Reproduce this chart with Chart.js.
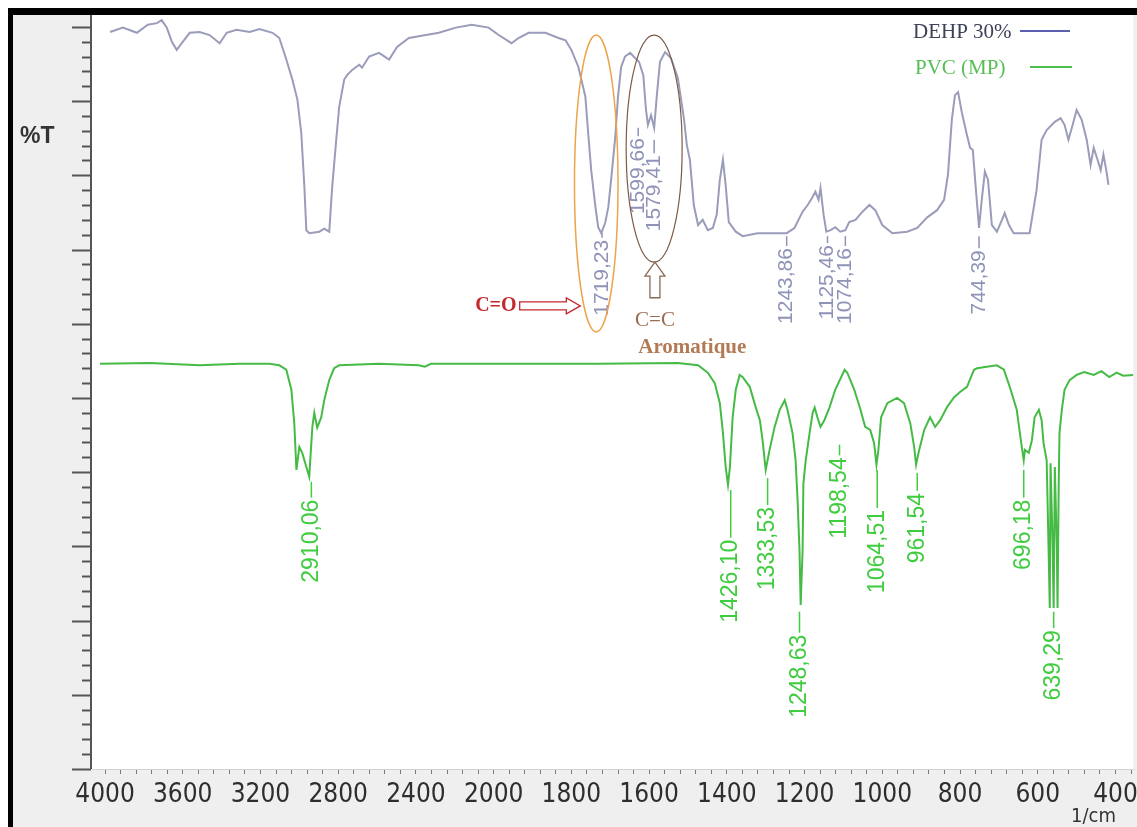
<!DOCTYPE html>
<html>
<head>
<meta charset="utf-8">
<script src="https://cdn.jsdelivr.net/npm/chart.js@4.4.1/dist/chart.umd.min.js"></script>
<style>
  html, body { margin: 0; padding: 0; background: #fff; }
  #wrap { position: relative; width: 1137px; height: 827px; }
</style>
</head>
<body>
<div id="wrap"><canvas id="ftir"></canvas></div>
<script>
// x axis labels (1/cm) - scale is 400 per step above 2000, 200 per step below
const tickLabels = ['4000','3600','3200','2800','2400','2000','1800','1600','1400','1200','1000','800','600','400'];
const xMinWn = 4067, xMaxWn = 354;

// DEHP 30% spectrum (wavenumber, %T)
const dehpWn = [3974,3908,3836,3780,3733,3708,3682,3656,3631,3605,
  3564,3513,3462,3410,3374,3323,3256,3205,3138,3103,
  3067,3036,3010,2990,2974,2964,2949,2897,2872,2846,
  2831,2810,2795,2769,2754,2728,2692,2677,2641,2590,
  2538,2497,2436,2282,2195,2113,2026,1987,1954,1936,
  1910,1867,1833,1815,1800,1782,1764,1756,1749,1738,
  1731,1723,1713,1705,1697,1687,1680,1672,1662,1649,
  1636,1626,1615,1608,1603,1595,1587,1580,1572,1559,
  1544,1526,1510,1503,1495,1485,1474,1462,1449,1436,
  1426,1418,1410,1403,1395,1377,1359,1321,1246,1226,
  1205,1192,1180,1172,1164,1159,1151,1144,1133,1121,
  1108,1095,1085,1069,1051,1033,1018,1000,974,936,
  910,885,859,841,831,821,813,805,795,782,
  774,767,759,751,744,736,728,718,705,692,
  685,674,662,621,603,590,577,556,541,531,
  521,510,500,487,474,464,456,446,438,431,
  423,418];
const dehpT = [99.3,99.9,99.2,100.3,100.5,100.9,99.9,98.0,96.9,97.8,
  99.2,99.3,98.9,97.8,99.2,99.6,99.3,99.7,99.2,98.5,
  95.6,92.9,90.2,85.7,78.4,72.6,72.2,72.4,72.8,72.4,
  78.4,84.8,89.2,92.9,93.5,94.2,94.9,94.5,96.0,96.5,
  95.6,97.3,98.5,99.2,99.9,100.3,99.9,98.9,97.8,98.5,
  99.2,99.2,98.5,98.2,96.9,94.6,90.6,85.2,80.7,75.7,
  73.0,72.2,73.6,75.7,79.8,85.2,90.6,94.6,96.0,96.5,
  95.8,95.3,93.5,88.8,86.8,88.1,86.4,90.8,95.3,96.6,
  95.8,93.1,87.5,84.1,82.1,76.0,73.3,74.0,72.6,72.9,
  74.7,79.4,82.1,78.7,73.7,72.4,71.8,72.2,72.2,72.9,
  75.1,76.0,77.0,77.8,76.7,78.3,74.7,72.4,72.6,73.0,
  72.4,72.6,73.7,74.0,75.1,76.0,75.3,73.3,72.2,72.4,
  72.9,74.3,75.3,76.7,80.1,87.5,90.8,91.2,88.4,85.4,
  83.7,83.4,78.0,72.9,76.7,80.5,79.4,73.3,72.4,74.0,
  74.9,73.3,72.2,72.2,78.0,84.8,86.1,87.2,87.7,86.8,
  84.8,86.8,88.8,87.5,84.8,81.4,83.7,82.1,80.7,82.8,
  80.5,78.7];

// PVC (MP) spectrum (wavenumber, %T)
const pvcWn = [4026,3769,3513,3308,3154,3103,3067,3041,3026,3015,
  3000,2985,2964,2949,2933,2923,2908,2887,2872,2846,
  2821,2795,2590,2385,2354,2323,2077,1885,1731,1526,
  1474,1449,1431,1418,1410,1403,1397,1392,1385,1377,
  1367,1359,1341,1326,1315,1308,1300,1290,1277,1264,
  1251,1244,1231,1223,1218,1213,1210,1205,1203,1197,
  1187,1179,1174,1167,1159,1149,1136,1121,1097,1090,
  1072,1056,1044,1031,1021,1015,1010,1003,987,962,
  944,928,918,913,905,892,877,864,851,833,
  815,800,782,764,756,731,705,687,672,654,
  646,641,636,633,623,615,608,597,590,585,
  577,572,569,567,562,559,556,551,549,546,
  544,538,531,518,500,480,456,436,416,397,
  380,354];
const pvcT = [54.6,54.7,54.4,54.6,54.6,54.4,53.8,51.1,46.6,40.3,
  43.4,42.6,40.7,39.4,46.1,48.0,46.0,47.4,49.7,52.4,
  54.0,54.4,54.6,54.4,54.2,54.6,54.6,54.6,54.6,54.7,
  54.4,53.4,52.0,49.3,45.3,40.7,38.3,40.7,47.4,51.1,
  53.1,52.8,51.5,48.8,47.0,44.3,40.3,43.0,46.1,48.4,
  49.7,48.4,45.3,41.6,36.3,29.5,22.1,29.5,38.5,41.6,
  45.3,48.0,48.7,47.4,46.1,47.0,48.7,51.1,53.8,53.4,
  51.1,48.4,46.1,45.7,43.9,41.0,43.0,47.4,49.3,50.0,
  49.3,46.6,43.4,41.0,43.0,45.7,47.4,46.1,47.0,48.8,
  50.1,50.8,51.5,53.8,54.0,54.2,54.4,53.8,51.5,48.4,
  45.3,43.4,41.6,43.0,42.6,44.3,47.4,48.4,47.0,43.9,
  41.6,29.5,21.7,41.2,30.9,21.7,40.7,30.2,21.7,38.5,
  45.3,48.4,51.1,52.4,53.1,53.5,53.1,53.6,52.8,53.4,
  53.0,53.1];

// peak marks: text, wavenumber where the mark sits, %T where the dash starts, %T of the text top
const pvcPeakText = ['2910,06','1426,10','1333,53','1248,63','1198,54','1064,51','961,54','696,18','639,29'];
const pvcPeakWn   = [2938, 1390, 1295, 1213, 1110, 1013, 910, 636, 559];
const pvcPeakLine = [38.7, 37.6, 39.2, 21.2, 43.7, 40.3, 39.9, 40.3, 21.2];
const pvcPeakTop  = [36.3, 30.9, 35.3, 18.1, 42.0, 34.9, 37.2, 36.3, 18.7];

const dehpPeakText = ['1719,23','1599,66','1579,41','1243,86','1125,46','1074,16','744,39'];
const dehpPeakWn   = [1721, 1628, 1587, 1246, 1141, 1095, 751];
const dehpPeakLine = [72.2, 86.4, 84.8, 71.8, 71.8, 71.8, 71.8];
const dehpPeakTop  = [71.3, 85.0, 82.7, 70.2, 70.6, 70.2, 69.9];

// map wavenumber to position on the split axis
function pos(wn) { return wn >= 2000 ? (4000 - wn) / 400 : 5 + (2000 - wn) / 200; }

function vLabel(ctx, text, x, yTop, color, size) {
  ctx.save();
  ctx.translate(x, yTop);
  ctx.rotate(-Math.PI / 2);
  ctx.textAlign = 'right';
  ctx.textBaseline = 'middle';
  ctx.fillStyle = color;
  ctx.font = size + 'px "Liberation Sans", Arial, sans-serif';
  ctx.fillText(text, 0, 0);
  ctx.restore();
}

function drawPeaks(ctx, px, py, texts, wns, lines, tops, color, size) {
  texts.forEach((t, i) => {
    const X = px(wns[i]);
    ctx.strokeStyle = color;
    ctx.lineWidth = 1.5;
    ctx.beginPath();
    ctx.moveTo(X, py(lines[i]));
    ctx.lineTo(X, py(tops[i]) - 2);
    ctx.stroke();
    vLabel(ctx, t, X, py(tops[i]), color, size);
  });
}

const frame = {
  id: 'frame',
  beforeDraw(chart) {
    const { ctx, chartArea: a, width, height } = chart;
    ctx.save();
    ctx.fillStyle = '#fff';
    ctx.fillRect(0, 0, width, height);
    ctx.fillStyle = '#efefef';
    ctx.fillRect(13, 15, width - 13, height - 15);
    ctx.fillStyle = '#fff';
    ctx.fillRect(a.left, a.top, a.right - a.left, a.bottom - a.top);
    ctx.fillStyle = '#000';
    ctx.fillRect(8, 8, width - 8, 7);
    ctx.fillRect(8, 8, 5, height - 8);
    ctx.restore();
  },
  afterDatasetsDraw(chart) {
    const { ctx, chartArea: a, scales: { x, y } } = chart;
    const px = wn => x.getPixelForValue(pos(wn));
    const py = v => y.getPixelForValue(v);
    ctx.save();

    drawPeaks(ctx, px, py, pvcPeakText, pvcPeakWn, pvcPeakLine, pvcPeakTop, '#3fcc3f', 23);
    drawPeaks(ctx, px, py, dehpPeakText, dehpPeakWn, dehpPeakLine, dehpPeakTop, '#8f93b8', 21);

    // C=O ellipse (orange) and C=C ellipse (brown)
    ctx.lineWidth = 1.5;
    ctx.strokeStyle = '#eea24a';
    ctx.beginPath();
    ctx.ellipse((px(1792) + px(1680)) / 2, (py(98.9) + py(58.9)) / 2,
      (px(1680) - px(1792)) / 2, (py(58.9) - py(98.9)) / 2, 0, 0, Math.PI * 2);
    ctx.stroke();
    ctx.lineWidth = 1.2;
    ctx.strokeStyle = '#7d5a45';
    ctx.beginPath();
    ctx.ellipse((px(1659) + px(1515)) / 2, (py(98.9) + py(68.3)) / 2,
      (px(1515) - px(1659)) / 2, (py(68.3) - py(98.9)) / 2, 0, 0, Math.PI * 2);
    ctx.stroke();

    // C=O label with hollow arrow
    const ay = py(62.4), ax1 = px(1933), ax2 = px(1777);
    ctx.fillStyle = '#c4282c';
    ctx.font = 'bold 20px "Liberation Serif", serif';
    ctx.textAlign = 'right';
    ctx.textBaseline = 'middle';
    ctx.fillText('C=O', px(1941), ay);
    ctx.strokeStyle = '#c4282c';
    ctx.lineWidth = 1.3;
    ctx.beginPath();
    ctx.moveTo(ax1, ay - 4); ctx.lineTo(ax2 - 14, ay - 4); ctx.lineTo(ax2 - 14, ay - 8);
    ctx.lineTo(ax2, ay); ctx.lineTo(ax2 - 14, ay + 8); ctx.lineTo(ax2 - 14, ay + 4);
    ctx.lineTo(ax1, ay + 4); ctx.closePath();
    ctx.stroke();

    // C=C aromatique with up arrow
    const ux = px(1585), uTip = py(68.3), uBase = py(63.5);
    ctx.strokeStyle = '#8a6a55';
    ctx.beginPath();
    ctx.moveTo(ux, uTip); ctx.lineTo(ux + 10, uTip + 14); ctx.lineTo(ux + 5, uTip + 14);
    ctx.lineTo(ux + 5, uBase); ctx.lineTo(ux - 5, uBase); ctx.lineTo(ux - 5, uTip + 14);
    ctx.lineTo(ux - 10, uTip + 14); ctx.closePath();
    ctx.stroke();
    ctx.textAlign = 'left';
    ctx.textBaseline = 'alphabetic';
    ctx.fillStyle = '#9a6c50';
    ctx.font = '21px "Liberation Serif", serif';
    ctx.fillText('C=C', px(1636), py(59.7));
    ctx.fillStyle = '#b27a55';
    ctx.font = 'bold 21px "Liberation Serif", serif';
    ctx.fillText('Aromatique', px(1628), py(56.1));

    // legend: text then line
    ctx.font = '21px "Liberation Serif", serif';
    ctx.fillStyle = '#3c4257';
    ctx.fillText('DEHP 30%', 913, 38);
    ctx.fillStyle = '#55bf55';
    ctx.fillText('PVC (MP)', 915, 74);
    ctx.lineWidth = 2;
    ctx.strokeStyle = '#5b5fb0';
    ctx.beginPath(); ctx.moveTo(1020, 31); ctx.lineTo(1070, 31); ctx.stroke();
    ctx.strokeStyle = '#4cbf4c';
    ctx.beginPath(); ctx.moveTo(1030, 67); ctx.lineTo(1072, 67); ctx.stroke();
    ctx.restore();
  },
  afterDraw(chart) {
    const { ctx, chartArea: a, scales: { y } } = chart;
    ctx.save();
    // y axis with major/minor ticks, no values
    ctx.strokeStyle = '#555';
    ctx.lineWidth = 2;
    ctx.beginPath();
    ctx.moveTo(a.left - 1, a.top);
    ctx.lineTo(a.left - 1, a.bottom);
    ctx.stroke();
    for (let v = 0; v <= 100; v += 2) {
      const Y = Math.round(y.getPixelForValue(v)) + 0.5;
      ctx.beginPath();
      ctx.moveTo(a.left - (v % 10 === 0 ? 20 : 10), Y);
      ctx.lineTo(a.left - 1, Y);
      ctx.stroke();
    }
    ctx.fillStyle = '#333';
    ctx.font = 'bold 23px "Liberation Sans", Arial, sans-serif';
    ctx.textAlign = 'left';
    ctx.textBaseline = 'middle';
    ctx.fillText('%T', 20, 137);
    ctx.font = '20px "Liberation Sans Narrow", "DejaVu Sans Condensed", sans-serif';
    ctx.textAlign = 'right';
    ctx.fillText('1/cm', 1116, 817);
    ctx.restore();
  }
};

new Chart(document.getElementById('ftir'), {
  type: 'line',
  data: {
    datasets: [
      {
        label: 'DEHP 30%',
        data: dehpWn.map((w, i) => ({ x: pos(w), y: dehpT[i] })),
        borderColor: '#9a9cba',
        borderWidth: 2,
        pointRadius: 0,
        tension: 0
      },
      {
        label: 'PVC (MP)',
        data: pvcWn.map((w, i) => ({ x: pos(w), y: pvcT[i] })),
        borderColor: '#45bb45',
        borderWidth: 2,
        pointRadius: 0,
        tension: 0
      }
    ]
  },
  options: {
    responsive: true,
    maintainAspectRatio: false,
    animation: false,
    layout: { padding: { left: 92, top: 15, right: 0, bottom: 0 } },
    plugins: { legend: { display: false }, tooltip: { enabled: false } },
    scales: {
      x: {
        type: 'linear',
        min: pos(xMinWn),
        max: pos(xMaxWn),
        afterBuildTicks(axis) {
          const t = [];
          for (let i = 0; i <= 66; i++) t.push({ value: i / 5 });
          axis.ticks = t;
        },
        afterFit(axis) { axis.height = 58; },
        grid: { drawOnChartArea: false, tickLength: 5, tickColor: '#7a7a7a', tickWidth: 1 },
        border: { color: '#d2d2d2', width: 1 },
        ticks: {
          autoSkip: false,
          maxRotation: 0,
          padding: 6,
          color: '#2e2e2e',
          font: { family: '"Liberation Sans Narrow", "DejaVu Sans Condensed", sans-serif', size: 26 },
          callback(v) {
            const i = Math.round(v * 5);
            return i % 5 === 0 ? tickLabels[i / 5] : '';
          }
        }
      },
      y: { display: false, min: 0, max: 101.6 }
    }
  },
  plugins: [frame]
});
</script>
</body>
</html>
